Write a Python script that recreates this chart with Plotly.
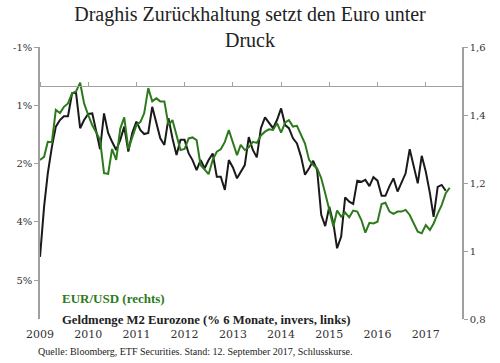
import pandas as pd
import plotly.graph_objects as go

# ---- data ----
START = "2009-01-01"
eur_usd = [1.268, 1.277, 1.321, 1.32, 1.415, 1.406, 1.424, 1.434, 1.464, 1.469,
           1.495, 1.434, 1.40, 1.37, 1.35, 1.326, 1.229, 1.227, 1.30, 1.268,
           1.36, 1.393, 1.30, 1.336, 1.37, 1.38, 1.405, 1.479, 1.44, 1.449,
           1.44, 1.44, 1.37, 1.385, 1.336, 1.297, 1.30, 1.331, 1.334, 1.326,
           1.253, 1.238, 1.226, 1.268, 1.292, 1.299, 1.321, 1.356, 1.318, 1.282,
           1.312, 1.297, 1.305, 1.321, 1.318, 1.34, 1.351, 1.358, 1.356, 1.376,
           1.348, 1.378, 1.385, 1.366, 1.368, 1.341, 1.316, 1.268, 1.253, 1.243,
           1.214, 1.17, 1.123, 1.072, 1.119, 1.101, 1.113, 1.099, 1.119, 1.116,
           1.091, 1.054, 1.083, 1.081, 1.086, 1.138, 1.142, 1.116, 1.109, 1.116,
           1.116, 1.121, 1.106, 1.081, 1.057, 1.052, 1.076, 1.062, 1.081, 1.11,
           1.135, 1.17, 1.186]
m2_growth = [4.40, 3.11, 2.25, 1.57, 1.05, 0.88, 0.78, 0.78, 0.19, 0.18,
             1.09, 0.88, 0.72, 0.71, 1.14, 1.63, 0.71, 1.21, 1.44, 1.65,
             1.39, 1.05, 1.69, 1.21, 0.92, 1.14, 1.24, 1.21, 0.54, 0.96,
             1.35, 1.52, 0.83, 1.35, 1.78, 1.39, 1.39, 1.74, 1.91, 2.17,
             1.91, 2.12, 1.91, 1.74, 2.34, 2.34, 2.68, 1.91, 2.10, 2.38,
             2.21, 2.04, 1.32, 1.65, 1.84, 1.09, 0.81, 0.95, 1.09, 0.88,
             0.58, 1.01, 1.09, 1.35, 1.48, 1.82, 2.29, 2.12, 1.93, 2.17,
             3.32, 3.61, 3.11, 3.54, 4.18, 3.88, 2.87, 2.98, 3.04, 2.44,
             2.47, 2.42, 2.58, 2.35, 2.44, 2.83, 2.83, 2.58, 2.38, 2.72,
             2.47, 2.25, 1.63, 2.06, 2.51, 1.80, 2.21, 2.76, 3.37, 2.60,
             2.55, 2.70]
dates_eur = pd.date_range(START, periods=len(eur_usd), freq="MS")
dates_m2 = pd.date_range(START, periods=len(m2_growth), freq="MS")

m2_ticks = [-1, 0.5, 2, 3.5, 5]
m2_tick_labels = ["-1%", "1%", "2%", "4%", "5%"]
m2_range = [6, -1]          # inverted axis
eur_range = [0.8, 1.6]
x_range = ["2009-01-01", "2017-10-02"]

title_text = "Draghis Zurückhaltung setzt den Euro unter<br>Druck"
label_eur = "EUR/USD (rechts)"
label_m2 = "Geldmenge M2 Eurozone (% 6 Monate, invers, links)"
source_text = "Quelle: Bloomberg, ETF Securities. Stand: 12. September 2017, Schlusskurse."

GREEN = "#2d7a1c"
BLACK = "#1a1a1a"
AXIS = "#a0a0a0"
SERIF = "DejaVu Serif"
TEXT_SERIF = "Liberation Serif"

fig = go.Figure()
fig.add_trace(go.Scatter(x=dates_m2, y=m2_growth, mode="lines",
                         line=dict(color=BLACK, width=2), xaxis="x", yaxis="y",
                         hoverinfo="skip"))
fig.add_trace(go.Scatter(x=dates_eur, y=eur_usd, mode="lines",
                         line=dict(color=GREEN, width=2), xaxis="x2", yaxis="y2",
                         hoverinfo="skip"))

zero_pos = (m2_range[0] - 0) / (m2_range[0] - m2_range[1])

fig.update_layout(
    width=500, height=363,
    margin=dict(l=40, r=38, t=47, b=44),
    plot_bgcolor="white", paper_bgcolor="white",
    showlegend=False,
    separators=",.",
    title=dict(text=title_text, x=0.5, xanchor="center", xref="container",
               y=1 - 21 / 363, yanchor="top", yref="container",
               font=dict(family=TEXT_SERIF, size=20, color="#222")),
    xaxis=dict(type="date", range=x_range, tickformat="%Y", dtick="M12",
               tick0="2009-01-01", showline=False, showgrid=False, zeroline=False,
               ticks="outside", ticklen=5, tickcolor="rgba(0,0,0,0)",
               tickfont=dict(family=SERIF, size=11, color="#333")),
    xaxis2=dict(type="date", range=x_range, overlaying="x", anchor="free",
                position=zero_pos, side="top", dtick="M12", tick0="2009-01-01",
                showline=True, linecolor=AXIS, linewidth=1.3, ticks="outside",
                ticklen=4, tickcolor=AXIS, showticklabels=False, showgrid=False,
                zeroline=False),
    yaxis=dict(range=m2_range, tickvals=m2_ticks, ticktext=m2_tick_labels,
               showline=True, linecolor=AXIS, linewidth=1.5, ticks="outside",
               ticklen=4, tickcolor=AXIS, showgrid=False, zeroline=False,
               tickfont=dict(family=SERIF, size=10, color="#333")),
    yaxis2=dict(range=eur_range, dtick=0.2, tick0=0.8, overlaying="y", side="right",
                anchor="x2", showline=True, linecolor=AXIS, linewidth=1.5,
                ticks="outside", ticklen=4, tickcolor=AXIS, showgrid=False,
                zeroline=False, tickfont=dict(family=SERIF, size=10, color="#333")),
    annotations=[
        dict(text=f"<b>{label_eur}</b>", x=0.047, y=0.077, xref="paper", yref="paper",
             xanchor="left", yanchor="middle", showarrow=False,
             font=dict(family=TEXT_SERIF, size=13, color=GREEN)),
        dict(text=f"<b>{label_m2}</b>", x=0.047, y=-0.004, xref="paper", yref="paper",
             xanchor="left", yanchor="middle", showarrow=False,
             font=dict(family=TEXT_SERIF, size=12.7, color="#222")),
        dict(text=source_text, x=-0.0095, y=-0.121, xref="paper", yref="paper",
             xanchor="left", yanchor="middle", showarrow=False,
             font=dict(family=TEXT_SERIF, size=10, color="#222")),
    ],
)

fig.write_html("out.html", config={"displayModeBar": False},
               post_script="document.body.style.margin='0';")
